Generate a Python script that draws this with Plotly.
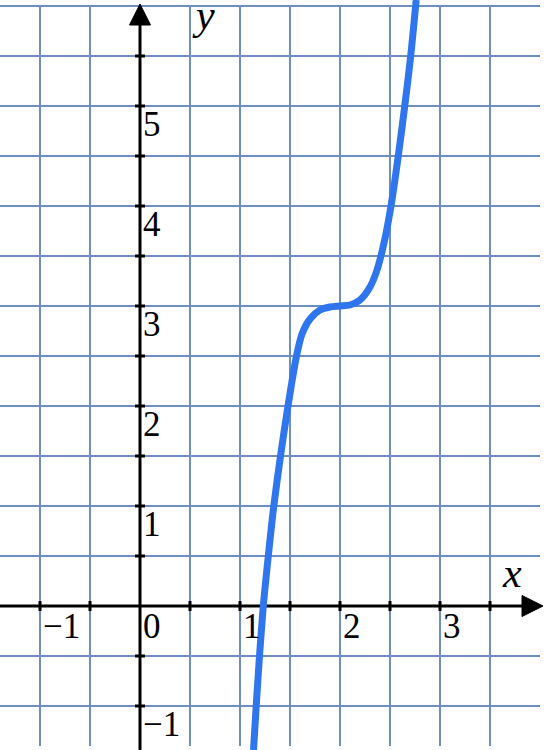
import plotly.graph_objects as go
import numpy as np

# Points (x, y in axis units)
curve_x = [1.135, 1.162, 1.195, 1.233, 1.283, 1.338, 1.405, 1.48, 1.565, 1.62, 1.70,
           1.80, 1.90, 2.0, 2.10, 2.20, 2.30, 2.37, 2.44, 2.51, 2.58, 2.65, 2.707, 2.762]
curve_y = [-1.44, -1.0, -0.5, 0.0, 0.5, 1.0, 1.5, 2.0, 2.5, 2.72, 2.87,
           2.96, 2.99, 3.0, 3.01, 3.06, 3.19, 3.36, 3.63, 4.0, 4.48, 5.02, 5.5, 6.06]

# Tick labels
x_label_vals = [-1, 1, 2, 3]
x_label_text = ["\u22121", "1", "2", "3"]
y_label_vals = [1, 2, 3, 4, 5, -1]
y_label_text = ["1", "2", "3", "4", "5", "\u22121"]

grid_color = '#6E8DC0'
curve_color = '#2F75EE'
label_font = dict(family='Liberation Serif', size=35, color='black')
name_font = dict(family='Liberation Serif', size=42, color='black')

shapes = []
# grid
for gx in np.arange(-1.0, 3.51, 0.5):
    shapes.append(dict(type='line', x0=gx, x1=gx, y0=-1.4, y1=6.0, layer='below',
                       line=dict(color=grid_color, width=2)))
for gy in np.arange(-1.0, 6.01, 0.5):
    shapes.append(dict(type='line', x0=-1.45, x1=4.0, y0=gy, y1=gy, layer='below',
                       line=dict(color=grid_color, width=2)))
# axes
shapes.append(dict(type='line', x0=-1.45, x1=3.85, y0=0, y1=0, layer='below',
                   line=dict(color='black', width=3)))
shapes.append(dict(type='line', x0=0, x1=0, y0=-1.5, y1=5.84, layer='below',
                   line=dict(color='black', width=3)))
shapes.append(dict(type='path', path='M 3.82 -0.105 L 4.03 0 L 3.82 0.105 Z', layer='below',
                   fillcolor='black', line=dict(color='black', width=1)))
shapes.append(dict(type='path', path='M -0.105 5.81 L 0 6.02 L 0.105 5.81 Z', layer='below',
                   fillcolor='black', line=dict(color='black', width=1)))
# tick marks
for tx in [-1, -0.5, 0.5, 1, 1.5, 2, 2.5, 3, 3.5]:
    shapes.append(dict(type='line', x0=tx, x1=tx, y0=-0.05, y1=0.05, layer='below',
                       line=dict(color='black', width=3)))
for ty in np.arange(-1.0, 5.51, 0.5):
    if ty == 0:
        continue
    shapes.append(dict(type='line', x0=-0.05, x1=0.05, y0=ty, y1=ty, layer='below',
                       line=dict(color='black', width=3)))

fig = go.Figure()
fig.add_trace(go.Scatter(
    x=curve_x, y=curve_y, mode='lines',
    line=dict(color=curve_color, width=7, shape='spline', smoothing=0.8),
    hoverinfo='skip', showlegend=False,
))

annotations = []
for v, t in zip(x_label_vals, x_label_text):
    annotations.append(dict(x=v, y=0, text=t, showarrow=False, xanchor='left', yanchor='top',
                            xshift=1, yshift=1, font=label_font))
annotations.append(dict(x=0, y=0, text='0', showarrow=False, xanchor='left', yanchor='top',
                        xshift=1, yshift=1, font=label_font))
for v, t in zip(y_label_vals, y_label_text):
    annotations.append(dict(x=0, y=v, text=t, showarrow=False, xanchor='left', yanchor='top',
                            xshift=1, yshift=3, font=label_font))
annotations.append(dict(x=3.72, y=0.08, text='<i>x</i>', showarrow=False, xanchor='center',
                        yanchor='bottom', font=name_font))
annotations.append(dict(x=0.63, y=5.66, text='<i>y</i>', showarrow=False, xanchor='center',
                        yanchor='bottom', font=name_font))

fig.update_layout(
    width=551, height=750,
    margin=dict(l=0, r=0, t=0, b=0),
    paper_bgcolor='white', plot_bgcolor='white',
    xaxis=dict(range=[-1.4, 4.11], visible=False, fixedrange=True),
    yaxis=dict(range=[-1.44, 6.06], visible=False, fixedrange=True),
    shapes=shapes,
    annotations=annotations,
)

# drop the browser's default page margin so the chart sits at the window corner
fig.write_html("out.html", config={'displayModeBar': False},
               post_script="document.body.style.margin='0';")
